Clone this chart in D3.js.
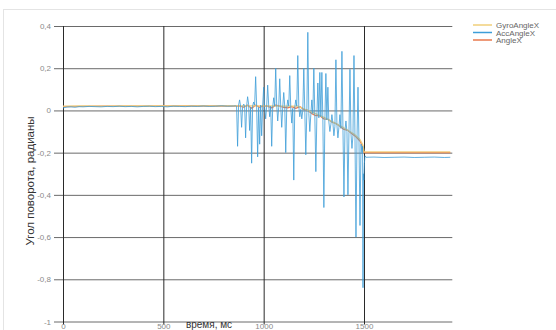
<!DOCTYPE html>
<meta charset="utf-8">
<style>
    html,
    body {
        margin: 0;
        padding: 0;
        background: #fff;
    }

    svg {
        display: block;
        font-family: "Liberation Sans", Arial, sans-serif;
    }
</style>

<body>
    <svg width="556" height="330"></svg>
    <script src="https://cdn.jsdelivr.net/npm/d3@7/dist/d3.min.js"></script>
    <script>
        // подписи и деления
        const seriesNames = ["GyroAngleX", "AccAngleX", "AngleX"];
        const seriesColors = ["#f0cf7a", "#3d9ed8", "#e8784c"];
        const xTicks = [0, 500, 1000, 1500];
        const yTicks = [0.4, 0.2, 0, -0.2, -0.4, -0.6, -0.8, -1];
        const yLabel = "Угол поворота, радианы";
        const xLabel = "время, мс";

        // GyroAngleX [мс, рад]
        const gyroAngleX = [
            [0, 0.02], [100, 0.021], [200, 0.02], [300, 0.021], [400, 0.021], [500, 0.021],
            [600, 0.022], [700, 0.022], [800, 0.022], [900, 0.022], [1000, 0.022], [1100, 0.02],
            [1170, 0.02], [1200, 0.008], [1250, -0.012], [1300, -0.033], [1350, -0.058],
            [1400, -0.083], [1450, -0.112], [1480, -0.138], [1495, -0.165], [1500, -0.196],
            [1600, -0.196], [1700, -0.196], [1800, -0.196], [1930, -0.196]
        ];

        // AccAngleX [мс, рад]
        const accAngleX = [
            [0, 0.012], [20, 0.016], [40, 0.017], [60, 0.015], [80, 0.018], [100, 0.017], [130, 0.019],
            [160, 0.018], [190, 0.017], [220, 0.019], [250, 0.018], [280, 0.02], [310, 0.018], [340, 0.019],
            [370, 0.017], [400, 0.019], [430, 0.02], [460, 0.018], [490, 0.019], [520, 0.017], [550, 0.02],
            [580, 0.019], [610, 0.018], [640, 0.02], [670, 0.019], [700, 0.021], [730, 0.019], [760, 0.02],
            [790, 0.022], [820, 0.02], [850, 0.021], [860, 0.022], [865, 0.02],
            [870, -0.17], [875, 0.025], [880, 0.05], [885, 0.02], [890, -0.08], [895, 0.015],
            [900, 0.03], [905, 0.025], [910, -0.13], [915, 0.02], [920, 0.065], [925, 0.03],
            [930, -0.095], [935, 0.015], [940, -0.25], [945, 0.02], [950, 0.04], [955, 0.025],
            [960, 0.16], [965, 0.02], [970, -0.22], [975, 0.015], [980, -0.16], [985, 0.025],
            [990, -0.12], [995, 0.02], [1000, 0.11], [1005, 0.015], [1010, -0.04], [1015, 0.02],
            [1020, 0.12], [1025, 0.025], [1030, -0.03], [1035, 0.02], [1040, -0.17], [1045, 0.015],
            [1050, 0.06], [1055, 0.02], [1060, 0.2], [1065, 0.025], [1070, -0.05], [1075, 0.015],
            [1080, 0.15], [1085, 0.02], [1090, -0.08], [1095, 0.015], [1100, 0.085], [1105, 0.02],
            [1110, -0.2], [1115, 0.01], [1120, 0.05], [1125, 0.02], [1130, 0.165], [1135, 0.015],
            [1140, -0.06], [1145, 0.01], [1150, -0.33], [1155, 0.015], [1160, 0.05], [1165, 0.02],
            [1170, 0.26], [1175, 0.02], [1180, -0.03], [1185, 0.005], [1190, -0.04], [1195, 0.0],
            [1200, 0.2], [1205, -0.005], [1210, -0.21], [1215, -0.01], [1220, 0.37], [1225, -0.015],
            [1230, -0.1], [1235, -0.02], [1240, 0.05], [1245, -0.015], [1250, 0.2], [1255, -0.025],
            [1260, -0.29], [1265, -0.03], [1270, 0.13], [1275, -0.035], [1280, 0.18], [1285, -0.03],
            [1290, 0.18], [1295, -0.045], [1300, -0.46], [1305, -0.05], [1310, 0.175], [1315, -0.045],
            [1320, 0.11], [1325, -0.055], [1330, -0.1], [1335, -0.065], [1340, -0.02], [1345, -0.06],
            [1350, -0.12], [1355, -0.075], [1360, 0.24], [1365, -0.07], [1370, -0.13], [1375, -0.08],
            [1380, -0.02], [1385, -0.085], [1390, 0.28], [1395, -0.08], [1400, -0.41], [1405, -0.095],
            [1410, -0.05], [1415, -0.1], [1420, -0.4], [1425, -0.105], [1430, 0.195], [1435, -0.11],
            [1440, -0.18], [1445, -0.12], [1450, 0.26], [1455, -0.125], [1460, -0.6], [1465, -0.14],
            [1470, 0.11], [1475, -0.15], [1480, -0.545], [1485, -0.16], [1490, -0.2], [1493, -0.17],
            [1495, -0.84], [1497, -0.3], [1499, -0.33], [1502, -0.25], [1505, -0.215], [1510, -0.222],
            [1550, -0.221], [1600, -0.223], [1650, -0.222], [1700, -0.221], [1750, -0.223],
            [1800, -0.222], [1850, -0.221], [1900, -0.223], [1930, -0.222]
        ];

        // AngleX [мс, рад]
        const angleX = [
            [0, 0.018], [200, 0.02], [400, 0.02], [600, 0.021], [800, 0.021], [860, 0.02],
            [880, 0.022], [900, 0.015], [920, 0.025], [940, 0.01], [960, 0.025], [980, 0.015],
            [1000, 0.022], [1020, 0.02], [1040, 0.012], [1060, 0.025], [1080, 0.02], [1100, 0.015],
            [1120, 0.012], [1140, 0.018], [1160, 0.01], [1180, 0.018], [1200, 0.005], [1220, 0.0],
            [1240, -0.015], [1260, -0.025], [1280, -0.025], [1300, -0.04], [1320, -0.042],
            [1340, -0.055], [1360, -0.062], [1380, -0.075], [1400, -0.09], [1420, -0.095],
            [1440, -0.11], [1460, -0.125], [1480, -0.145], [1490, -0.165], [1500, -0.2],
            [1700, -0.2], [1930, -0.2]
        ];

        const svg = d3.select("svg");
        const mLeft = 63, mTop = 26, mRight = 452.3, mBottom = 321.5;

        const x = d3.scaleLinear().domain([0, 1940]).range([mLeft, mRight]);
        const y = d3.scaleLinear().domain([-1, 0.4]).range([mBottom, mTop]);

        const ru = d3.formatLocale({ decimal: ",", thousands: " ", grouping: [3], currency: ["", ""], minus: "-" });
        const yFmt = ru.format(".1~f");

        svg.append("rect")
            .attr("width", 556).attr("height", 330).attr("fill", "#fff");
        svg.append("rect")
            .attr("x", 3.5).attr("y", 9.5).attr("width", 600).attr("height", 400)
            .attr("fill", "none").attr("stroke", "#e4e4e4");

        // горизонтальная сетка
        const gy = svg.append("g")
            .attr("transform", `translate(${mLeft},0)`)
            .call(d3.axisLeft(y).tickValues(yTicks).tickFormat(yFmt)
                .tickSize(-(mRight - mLeft)).tickPadding(12));
        gy.select(".domain").remove();
        gy.selectAll(".tick line").attr("x1", -9).attr("stroke", "#6a6a6a");
        gy.selectAll(".tick text").attr("fill", "#8a8a8a").style("font-size", "8px");

        // вертикальная сетка
        const gx = svg.append("g")
            .attr("transform", `translate(0,${mBottom})`)
            .call(d3.axisBottom(x).tickValues(xTicks).tickFormat(d3.format("d"))
                .tickSize(-(mBottom - mTop)).tickPadding(2));
        gx.select(".domain").remove();
        gx.selectAll(".tick line").attr("y1", 3).attr("stroke", "#2a2a2a");
        gx.selectAll(".tick text").attr("fill", "#8a8a8a").style("font-size", "8px");

        const line = d3.line().x(d => x(d[0])).y(d => y(d[1]));

        const plots = [
            { data: angleX, color: seriesColors[2], w: 1.3, op: 0.95 },
            { data: gyroAngleX, color: seriesColors[0], w: 1.3, op: 0.95 },
            { data: accAngleX, color: seriesColors[1], w: 1, op: 0.8 }
        ];
        plots.forEach(p => {
            svg.append("path")
                .datum(p.data)
                .attr("d", line)
                .attr("fill", "none")
                .attr("stroke", p.color)
                .attr("stroke-width", p.w)
                .attr("stroke-linejoin", "round")
                .attr("opacity", p.op);
        });

        // подписи осей
        svg.append("text")
            .attr("transform", `translate(34,181) rotate(-90)`)
            .attr("text-anchor", "middle")
            .attr("fill", "#333")
            .style("font-size", "11.5px")
            .text(yLabel);
        svg.append("text")
            .attr("x", 209).attr("y", 328)
            .attr("text-anchor", "middle")
            .attr("fill", "#333")
            .style("font-size", "10px")
            .text(xLabel);

        // легенда
        const lg = svg.append("g").attr("transform", "translate(473,25)");
        seriesNames.forEach((name, i) => {
            lg.append("line")
                .attr("x1", 0).attr("x2", 19)
                .attr("y1", i * 7.5).attr("y2", i * 7.5)
                .attr("stroke", seriesColors[i]).attr("stroke-width", 1.5);
            lg.append("text")
                .attr("x", 23).attr("y", i * 7.5 + 3)
                .attr("fill", "#666")
                .style("font-size", "8px")
                .text(name);
        });
    </script>
</body>

</html>
